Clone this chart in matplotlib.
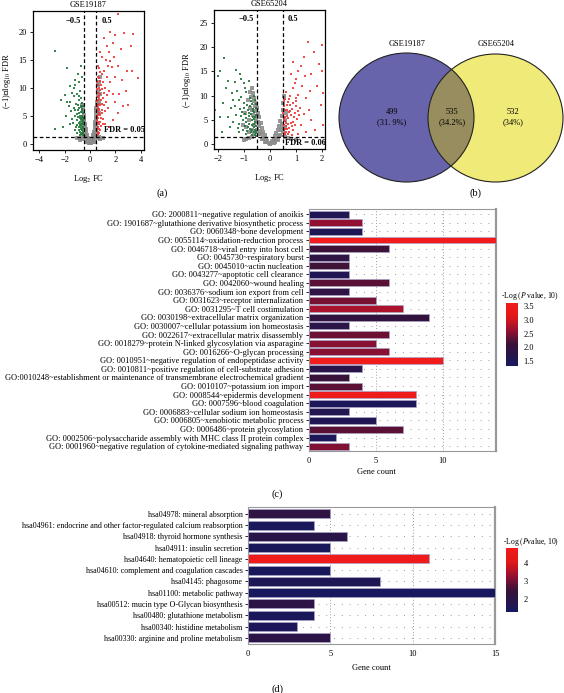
import matplotlib
matplotlib.use('Agg')
import matplotlib.pyplot as plt
import numpy as np
from matplotlib.colors import LinearSegmentedColormap, Normalize
from matplotlib.cm import ScalarMappable
from matplotlib.patches import Ellipse

plt.rcParams['font.family'] = ['Liberation Serif', 'DejaVu Serif']
plt.rcParams['mathtext.fontset'] = 'stix'

# ---------------- data ----------------
# (a) volcano GSE19187: (log2FC, -log10 FDR)
v1_grey = [(0, 0.1), (0.05, 0.3), (-0.05, 0.2), (0.1, 0.5), (-0.1, 0.4), (0.15, 0.9), (-0.15, 0.8),
           (0.2, 1.2), (-0.2, 1.1), (0.25, 1.6), (-0.25, 1.5), (0.3, 2.2), (-0.3, 2.0), (0.35, 2.9),
           (-0.35, 2.6), (0.4, 3.6), (-0.4, 3.2), (0.45, 4.5), (-0.45, 3.8), (0.48, 5.5), (-0.48, 4.5),
           (0.5, 6.5), (-0.5, 5.2), (0.55, 7.5), (0.6, 8.5), (0.65, 9.5), (-0.55, 5.8), (0.2, 0.6),
           (-0.2, 0.5), (0.3, 1.0), (-0.3, 0.9), (0.4, 1.5), (-0.4, 1.2), (0.45, 2.5), (-0.45, 2.0),
           (0.5, 3.2), (-0.5, 2.8), (0.6, 1.0), (-0.6, 0.8), (0.8, 0.9), (-0.8, 0.7), (0.7, 1.2),
           (-0.7, 1.1), (1.0, 1.1), (-1.0, 1.0), (0.1, 0.1), (-0.1, 0.1), (0.35, 0.4), (-0.35, 0.3),
           (0.42, 4.0), (0.47, 6.0), (0.52, 7.0), (0.38, 3.3), (-0.38, 2.9), (-0.42, 3.5), (-0.47, 4.2),
           (0.25, 0.4), (-0.25, 0.3), (0.55, 2.0), (-0.55, 1.6), (0.62, 10.5), (0.7, 11.0), (0.75, 9.0),
           (0.8, 12.0), (-0.52, 6.5), (-0.6, 7.0), (0.33, 1.8), (-0.33, 1.6), (0.43, 3.0), (-0.43, 2.5),
           (0.5, 4.8), (-0.5, 4.0), (0.58, 6.0), (0.68, 7.5), (0.72, 5.5), (-0.58, 3.5), (-0.65, 4.5)]
v1_green = [(-0.55, 1.5), (-0.6, 2.0), (-0.65, 2.5), (-0.7, 1.8), (-0.75, 3.0), (-0.6, 3.5), (-0.55, 4.0),
            (-0.8, 2.2), (-0.9, 3.8), (-0.7, 4.5), (-0.65, 5.0), (-0.85, 5.5), (-1.0, 4.2), (-1.1, 3.0),
            (-1.2, 5.0), (-0.95, 6.0), (-0.6, 6.3), (-0.75, 6.8), (-1.3, 6.5), (-1.5, 5.8), (-1.1, 7.2),
            (-0.9, 7.8), (-0.7, 8.2), (-1.4, 4.5), (-1.6, 3.5), (-1.2, 2.5), (-1.0, 2.0), (-0.8, 1.6),
            (-1.7, 6.8), (-1.25, 8.5), (-1.05, 9.0), (-0.8, 9.5), (-1.45, 9.2), (-1.15, 10.5), (-0.9, 11.0),
            (-1.3, 10.0), (-0.6, 12.0), (-0.7, 14.0), (-1.9, 5.0), (-1.8, 7.5), (-2.3, 7.8), (-2.8, 2.7),
            (-1.8, 13.5), (-2.8, 16.6), (-0.58, 2.8), (-0.62, 4.8), (-0.68, 3.3), (-0.72, 5.7), (-0.78, 4.0),
            (-0.88, 3.0), (-0.93, 4.8), (-1.05, 5.4), (-1.15, 6.0), (-0.98, 7.0), (-0.85, 8.6), (-0.63, 7.4),
            (-0.57, 5.5), (-0.66, 1.9), (-0.74, 2.6), (-0.84, 6.4), (-1.35, 3.8), (-1.55, 7.5), (-0.52, 3.0),
            (-0.53, 4.6), (-0.56, 6.8), (-1.2, 11.5), (-0.95, 12.5), (-1.6, 10.3), (-2.0, 8.8), (-2.1, 3.0),
            (-0.53, 2.2), (-0.57, 3.6), (-0.61, 2.4), (-0.67, 4.1), (-0.71, 3.6), (-0.76, 5.0), (-0.82, 4.6),
            (-0.54, 1.9), (-0.59, 4.3), (-0.64, 5.9), (-0.69, 6.6), (-0.81, 3.4), (-0.87, 2.5), (-1.02, 3.3)]
v1_red = [(0.55, 1.6), (0.6, 2.2), (0.65, 3.0), (0.7, 2.0), (0.55, 3.8), (0.6, 4.6), (0.75, 4.0), (0.8, 5.2),
          (0.58, 5.8), (0.65, 6.5), (0.7, 7.2), (0.9, 6.0), (0.85, 7.8), (0.6, 8.4), (0.75, 9.0), (1.0, 8.2),
          (1.1, 7.0), (0.95, 9.8), (0.65, 10.5), (0.8, 11.2), (1.2, 10.0), (1.3, 8.8), (1.4, 6.5), (1.5, 9.5),
          (0.9, 12.5), (1.1, 13.0), (0.7, 13.5), (1.35, 12.0), (1.6, 11.0), (1.8, 9.0), (2.0, 7.5), (1.7, 13.8),
          (1.25, 15.0), (0.95, 15.5), (0.6, 14.0), (1.5, 16.5), (1.9, 15.5), (2.2, 14.0), (2.5, 11.5),
          (2.8, 9.5), (1.8, 18.0), (1.3, 17.5), (1.55, 20.0), (2.2, 23.2), (2.7, 19.8), (3.4, 19.6),
          (3.2, 17.5), (2.9, 13.1), (3.3, 13.0), (3.8, 11.8), (2.4, 17.0), (2.0, 19.5), (1.1, 19.0),
          (0.8, 16.5), (1.0, 4.5), (1.2, 3.5), (1.5, 3.0), (1.8, 4.2), (2.2, 5.5), (2.6, 6.8), (0.62, 1.8),
          (0.68, 2.7), (0.72, 3.5), (0.78, 2.5), (0.83, 3.2), (0.57, 4.2), (0.63, 5.2), (0.67, 6.0),
          (0.73, 5.6), (0.88, 4.6), (0.92, 5.5), (0.53, 6.8), (0.57, 7.6), (0.63, 9.2), (0.68, 8.0),
          (0.78, 7.0), (0.82, 9.6), (0.72, 10.0), (0.55, 11.0), (0.6, 12.0), (1.05, 11.0), (1.15, 5.8),
          (1.25, 7.5), (2.3, 9.0), (3.0, 7.0), (1.6, 14.8), (2.0, 12.0), (0.52, 2.6), (0.54, 5.0),
          (0.56, 9.8), (0.59, 3.1), (0.61, 6.9), (0.64, 7.8), (0.66, 4.0), (0.69, 11.8), (0.71, 8.6),
          (0.74, 6.3), (0.77, 12.8), (0.86, 10.5), (0.94, 7.1), (0.98, 3.6), (1.08, 9.2), (1.4, 14.0)]

# (a) volcano GSE65204
v2_grey = [(0, 0.1), (0.05, 0.3), (-0.05, 0.3), (0.1, 0.6), (-0.1, 0.6), (0.15, 1.0), (-0.15, 1.1), (0.2, 1.6),
           (-0.2, 1.8), (0.25, 2.2), (-0.25, 2.5), (0.3, 3.0), (-0.3, 3.4), (0.35, 3.8), (-0.35, 4.3),
           (0.4, 4.8), (-0.4, 5.5), (0.45, 5.8), (-0.45, 6.5), (0.5, 7.0), (-0.5, 7.5), (-0.55, 8.5),
           (-0.6, 9.5), (0.52, 8.5), (-0.65, 10.5), (-0.7, 11.5), (0.55, 10.0), (-0.4, 2.0), (0.4, 1.8),
           (-0.5, 3.0), (0.5, 2.5), (-0.6, 2.0), (0.6, 1.5), (-0.7, 1.5), (0.7, 1.2), (-0.8, 1.2), (0.8, 1.0),
           (-0.9, 1.0), (-1.0, 0.8), (1.0, 0.8), (0.2, 0.4), (-0.2, 0.4), (0.3, 0.9), (-0.3, 1.0), (-0.55, 5.0),
           (-0.6, 4.0), (-0.65, 6.0), (-0.75, 7.5), (-0.8, 5.0), (-0.85, 9.0), (-0.9, 3.5), (-0.7, 3.0),
           (0.6, 5.0), (0.58, 3.5), (0.62, 6.5), (0.45, 3.5), (-0.45, 4.5), (-0.25, 1.2), (0.25, 1.0),
           (-0.35, 2.0), (0.35, 1.6), (-0.42, 3.8), (-0.48, 5.8), (-0.38, 2.8), (0.42, 2.9), (0.48, 4.2),
           (-0.52, 6.8), (-0.58, 7.8), (-0.62, 8.8), (-0.68, 7.0), (-0.72, 9.8), (-0.78, 10.8), (0.15, 0.3),
           (-0.15, 0.4), (-0.95, 6.5), (-1.05, 4.0), (-0.82, 2.4)]
v2_green = [(-0.52, 1.6), (-0.55, 2.2), (-0.58, 3.0), (-0.62, 2.5), (-0.53, 3.8), (-0.57, 4.5), (-0.6, 5.2),
            (-0.52, 6.0), (-0.65, 6.8), (-0.55, 7.5), (-0.7, 4.0), (-0.75, 3.2), (-0.8, 5.8), (-0.68, 8.2),
            (-0.85, 7.0), (-0.9, 4.5), (-0.95, 6.2), (-1.0, 8.5), (-1.05, 5.0), (-0.78, 9.5), (-0.62, 10.0),
            (-0.9, 10.8), (-1.1, 9.8), (-1.15, 7.2), (-1.2, 4.2), (-1.3, 6.0), (-1.25, 11.0), (-1.0, 12.5),
            (-0.8, 13.0), (-1.4, 9.0), (-1.5, 7.5), (-1.6, 5.5), (-1.35, 12.8), (-1.3, 15.2), (-1.15, 14.5),
            (-1.75, 17.8), (-1.9, 15.0), (-2.0, 14.0), (-1.7, 11.5), (-1.9, 5.5), (-2.1, 7.0), (-1.8, 8.5),
            (-1.55, 3.5), (-1.2, 2.5), (-0.9, 2.0), (-0.7, 1.8), (-1.05, 3.0), (-0.58, 9.0), (-0.54, 8.2),
            (-0.66, 5.6), (-0.72, 6.3), (-0.82, 4.2), (-0.87, 2.8), (-0.95, 3.8), (-1.12, 5.8), (-1.0, 7.5),
            (-0.76, 7.8), (-0.6, 6.6), (-0.63, 3.5), (-0.73, 2.4), (-1.45, 10.5), (-0.95, 11.5), (-1.1, 13.5),
            (-1.6, 13.0), (-1.85, 2.5), (-1.4, 4.5), (-0.53, 2.7), (-0.56, 5.6), (-0.59, 1.9), (-0.61, 4.1),
            (-0.64, 7.3), (-0.67, 3.0), (-0.69, 5.0), (-0.74, 8.8), (-0.79, 6.5), (-0.84, 3.6), (-0.88, 8.0),
            (-0.93, 5.3), (-1.08, 6.7), (-1.18, 9.0), (-1.22, 3.4), (-1.35, 7.8)]
v2_red = [(0.52, 1.6), (0.55, 2.3), (0.58, 3.2), (0.62, 2.6), (0.53, 4.0), (0.57, 4.8), (0.6, 5.6), (0.52, 6.4),
          (0.65, 7.0), (0.55, 7.8), (0.7, 4.2), (0.75, 3.3), (0.8, 6.0), (0.68, 8.6), (0.85, 7.2), (0.9, 4.6),
          (0.95, 6.4), (1.0, 8.8), (1.05, 5.2), (0.78, 10.0), (0.62, 10.8), (0.9, 11.5), (1.1, 10.2),
          (1.15, 7.5), (1.2, 4.0), (1.3, 6.2), (1.25, 12.0), (1.0, 13.5), (0.8, 14.5), (1.4, 9.5), (1.5, 7.0),
          (1.6, 5.0), (1.35, 14.0), (1.2, 16.0), (1.45, 21.1), (1.7, 19.0), (1.9, 16.5), (2.0, 15.0),
          (2.05, 10.5), (1.8, 12.0), (1.95, 8.0), (2.05, 4.0), (1.75, 3.0), (1.4, 2.5), (1.1, 2.0), (0.85, 1.8),
          (0.7, 2.0), (0.58, 9.2), (0.54, 8.8), (0.66, 5.8), (0.72, 6.6), (0.82, 4.4), (0.87, 3.0),
          (0.95, 3.9), (1.12, 6.0), (1.0, 7.8), (0.76, 8.0), (0.6, 7.0), (0.63, 3.7), (0.73, 2.5),
          (1.55, 11.0), (0.95, 12.5), (1.1, 15.0), (1.6, 14.5), (1.3, 18.0), (0.9, 17.0), (2.0, 20.5),
          (1.0, 9.5), (0.53, 2.9), (0.56, 5.2), (0.59, 2.0), (0.61, 4.3), (0.64, 8.0), (0.67, 3.1),
          (0.69, 5.3), (0.74, 9.2), (0.79, 6.9), (0.84, 3.7), (0.88, 8.4), (0.93, 5.5), (1.08, 6.9)]

# (b) Venn counts
venn_sets = ['GSE19187', 'GSE65204']
venn_counts = ['499', '535', '532']
venn_pcts = ['(31. 9%)', '(34.2%)', '(34%)']

# (c) GO terms
go_terms = ['GO: 2000811~negative regulation of anoikis',
            'GO: 1901687~glutathione derivative biosynthetic process',
            'GO: 0060348~bone development',
            'GO: 0055114~oxidation-reduction process',
            'GO: 0046718~viral entry into host cell',
            'GO: 0045730~respiratory burst',
            'GO: 0045010~actin nucleation',
            'GO: 0043277~apoptotic cell clearance',
            'GO: 0042060~wound healing',
            'GO: 0036376~sodium ion export from cell',
            'GO: 0031623~receptor internalization',
            'GO: 0031295~T cell costimulation',
            'GO: 0030198~extracellular matrix organization',
            'GO: 0030007~cellular potassium ion homeostasis',
            'GO: 0022617~extracellular matrix disassembly',
            'GO: 0018279~protein N-linked glycosylation via asparagine',
            'GO: 0016266~O-glycan processing',
            'GO: 0010951~negative regulation of endopeptidase activity',
            'GO: 0010811~positive regulation of cell-substrate adhesion',
            'GO:0010248~establishment or maintenance of transmembrane electrochemical gradient',
            'GO: 0010107~potassium ion import',
            'GO: 0008544~epidermis development',
            'GO: 0007596~blood coagulation',
            'GO: 0006883~cellular sodium ion homeostasis',
            'GO: 0006805~xenobiotic metabolic process',
            'GO: 0006486~protein glycosylation',
            'GO: 0002506~polysaccharide assembly with MHC class II protein complex',
            'GO: 0001960~negative regulation of cytokine-mediated signaling pathway']
go_count = [3, 4, 4, 14, 6, 3, 3, 3, 6, 3, 5, 7, 9, 3, 6, 5, 6, 10, 4, 3, 4, 8, 8, 3, 5, 7, 2, 3]
go_logp = [1.55, 2.6, 1.5, 3.62, 2.15, 1.9, 2.15, 1.55, 2.3, 1.9, 2.45, 2.75, 1.95, 1.8, 2.4, 2.55, 2.55,
           3.6, 1.75, 2.1, 2.3, 3.5, 1.45, 1.6, 1.55, 2.3, 1.45, 2.5]

# (d) KEGG pathways
kegg_terms = ['hsa04978: mineral absorption',
              'hsa04961: endocrine and other factor-regulated calcium reabsorption',
              'hsa04918: thyroid hormone synthesis',
              'hsa04911: insulin secretion',
              'hsa04640: hematopoietic cell lineage',
              'hsa04610: complement and coagulation cascades',
              'hsa04145: phagosome',
              'hsa01100: metabolic pathway',
              'hsa00512: mucin type O-Glycan biosynthesis',
              'hsa00480: glutathione metabolism',
              'hsa00340: histidine metabolism',
              'hsa00330: arginine and proline metabolism']
kegg_count = [5, 4, 6, 5, 11, 5, 8, 15, 4, 4, 3, 5]
kegg_logp = [2.2, 1.4, 2.0, 1.4, 4.7, 1.4, 1.6, 1.35, 2.1, 1.45, 1.5, 2.1]

# ---------------- layout helpers ----------------
W, H = 564, 693
fig = plt.figure(figsize=(W / 100, H / 100), dpi=100)


def rect(l, t, r, b):
    return [l / W, 1 - b / H, (r - l) / W, (b - t) / H]


def volcano(box, grey, green, red, xlim, ylim, xticks, yticks, fdr, title, txt, ylab_x):
    ax = fig.add_axes(rect(*box))
    for pts, c, sz in ((grey, '#8c8c8c', 8), (green, '#237a3c', 3.6), (red, '#f03a3a', 3.6)):
        xs, ys = zip(*pts)
        ax.scatter(xs, ys, s=sz, c=c, marker='s', linewidths=0, alpha=0.9)
    ax.axvline(-0.5, color='k', ls=(0, (3, 2)), lw=0.9)
    ax.axvline(0.5, color='k', ls=(0, (3, 2)), lw=0.9)
    ax.axhline(fdr, color='k', ls=(0, (3, 2)), lw=0.9)
    ax.set_xlim(*xlim)
    ax.set_ylim(*ylim)
    ax.set_xticks(xticks)
    ax.set_yticks(yticks)
    ax.tick_params(labelsize=6, length=2.5, width=0.6, pad=2)
    for s in ax.spines.values():
        s.set_linewidth(0.9)
    ax.set_title(title, fontsize=6, pad=3)
    ax.set_xlabel(r'Log$_2$ FC', fontsize=6)
    ax.xaxis.set_label_coords(0.5, -0.165)
    ax.set_ylabel(r'(−1)∗log$_{10}$ FDR', fontsize=6, va='center')
    ax.yaxis.set_label_coords(ylab_x, 0.5)
    for x, y, s, ha in txt:
        ax.text(x, y, s, fontsize=6, fontweight='bold', ha=ha, va='center')
    return ax


volcano((33, 11, 144, 150), v1_grey, v1_green, v1_red, (-4.5, 4.25), (-1.1, 23.8),
        [-4, -2, 0, 2, 4], [0, 5, 10, 15, 20], 1.3, 'GSE19187',
        [(-1.3, 22, '−0.5', 'center'), (1.3, 22, '0.5', 'center'), (4.3, 2.4, 'FDR = 0.05', 'right')], -0.234)
volcano((214, 10, 325, 149), v2_grey, v2_green, v2_red, (-2.15, 2.12), (-1.0, 27.6),
        [-2, -1, 0, 1, 2], [0, 5, 10, 15, 20, 25], 1.5, 'GSE65204',
        [(-0.9, 25.8, '−0.5', 'center'), (0.9, 25.8, '0.5', 'center'), (0.58, 0.2, 'FDR = 0.06', 'left')], -0.246)

# ---------------- Venn ----------------
axv = fig.add_axes(rect(330, 30, 564, 190))
axv.set_xlim(330, 564)
axv.set_ylim(190, 30)
axv.axis('off')
left = Ellipse((406.5, 117.5), 135, 129, facecolor='#6864ab', edgecolor='none')
right = Ellipse((495.5, 118), 135, 128, facecolor='#f0ea78', edgecolor='none')
axv.add_patch(left)
axv.add_patch(right)
mid = Ellipse((495.5, 118), 135, 128, facecolor='#978d5e', edgecolor='none')
axv.add_patch(mid)
mid.set_clip_path(left)
axv.add_patch(Ellipse((406.5, 117.5), 135, 129, facecolor='none', edgecolor='#222222', lw=0.8))
axv.add_patch(Ellipse((495.5, 118), 135, 128, facecolor='none', edgecolor='#222222', lw=0.8))
axv.text(407, 44, venn_sets[0], fontsize=6, ha='center', va='center')
axv.text(496, 44, venn_sets[1], fontsize=6, ha='center', va='center')
for x, n, p in zip((392, 452, 513), venn_counts, venn_pcts):
    axv.text(x, 112, n, fontsize=6, ha='center', va='center')
    axv.text(x, 122, p, fontsize=6, ha='center', va='center')

# ---------------- bar charts ----------------
cmap = LinearSegmentedColormap.from_list('nr', [(0, '#16185e'), (0.35, '#3a1238'),
                                                 (0.58, '#9c1030'), (0.78, '#e01818'), (1, '#f21c1c')])


def enrich(box, cbox, terms, counts, logp, xlim, xticks, vlim, cticks, cfmt, ctitle, tpos, xlab_pos, lab,
           lab_pos, lsize):
    ax = fig.add_axes(rect(*box))
    norm = Normalize(*vlim)
    y = np.arange(len(terms))
    ax.barh(y, counts, height=0.8, color=cmap(norm(np.array(logp))), edgecolor='#aaa4c8', linewidth=0.5, zorder=3)
    ax.set_yticks(y)
    ax.set_yticklabels(terms, fontsize=lsize)
    ax.set_ylim(len(terms) - 0.45, -0.6)
    ax.set_xlim(*xlim)
    ax.set_xticks(xticks)
    ax.tick_params(axis='x', labelsize=6, length=0, pad=4)
    ax.tick_params(axis='y', length=2, width=0.6, pad=2)
    for yy in y:
        ax.axhline(yy, color='#999999', ls=(0, (1, 7)), lw=0.7, zorder=1)
    for xx in xticks[1:]:
        ax.axvline(xx, color='#999999', ls=(0, (1, 2)), lw=0.7, zorder=1)
    for s in ax.spines.values():
        s.set_color('#999999')
        s.set_linewidth(0.8)
    ax.spines['right'].set_linewidth(1.6)
    cax = fig.add_axes(rect(*cbox))
    cb = fig.colorbar(ScalarMappable(norm=norm, cmap=cmap), cax=cax, ticks=cticks)
    cb.outline.set_visible(False)
    cb.ax.tick_params(length=0, labelsize=6, pad=4)
    cb.ax.set_yticklabels([cfmt % t for t in cticks])
    fig.text(tpos[0] / W, 1 - tpos[1] / H, ctitle, fontsize=5.5, ha='left', va='center')
    fig.text(xlab_pos[0] / W, 1 - xlab_pos[1] / H, 'Gene count', fontsize=6, ha='center', va='center')
    fig.text(lab_pos[0] / W, 1 - lab_pos[1] / H, lab, fontsize=7.5, ha='center', va='center')


enrich((309, 209, 496, 451), (506, 303, 518, 366), go_terms, go_count, go_logp, (0, 14), [0, 5, 10],
       (1.32, 3.62), [1.5, 2.0, 2.5, 3.0, 3.5], '%.1f', r'-Log ($P$ value, 10)', (501, 296),
       (376, 472), '(c)', (277, 494), 6.05)
enrich((248, 507, 495, 644), (506, 548, 518, 612), kegg_terms, kegg_count, kegg_logp, (0, 15), [0, 5, 10, 15],
       (1.3, 4.85), [2, 3, 4], '%d', r'-Log ($P$value, 10)', (503, 542),
       (371, 668), '(d)', (277, 689), 5.8)

fig.text(162 / W, 1 - 193 / H, '(a)', fontsize=7.5, ha='center', va='center')
fig.text(476 / W, 1 - 193 / H, '(b)', fontsize=7.5, ha='center', va='center')

fig.savefig('out.png', dpi=100)
